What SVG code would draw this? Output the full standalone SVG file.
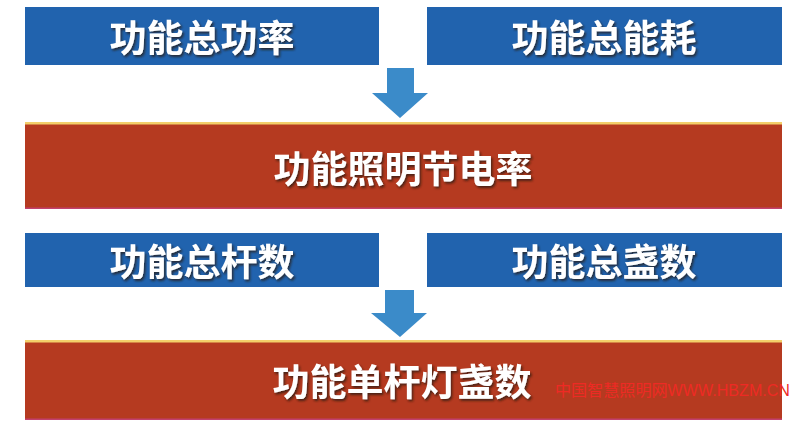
<svg xmlns="http://www.w3.org/2000/svg" width="800" height="423" viewBox="0 0 800 423">
  <defs>
    <style>
      .blue { fill: #2163ae; }
      .red { fill: #b53a20; }
      .arrow { fill: #3b8bc9; }
      .topline { fill: #f3cf6a; }
      .botline { fill: #c2406e; }
      .label { font-family: "Noto Sans CJK SC", "Noto Sans", sans-serif; font-weight: 700; font-size: 37px; fill: #ffffff; text-anchor: middle; dominant-baseline: central; filter: url(#shadow); }
      .mark { font-family: "Liberation Sans", "Noto Sans CJK SC", sans-serif; font-size: 16px; fill: #ee2a24; }
    </style>
    <filter id="shadow" x="-10%" y="-20%" width="120%" height="150%">
      <feDropShadow dx="1.5" dy="2" stdDeviation="0.8" flood-color="#2a1a10" flood-opacity="0.75"/>
    </filter>
  </defs>
  <rect width="800" height="423" fill="#ffffff"/>

  <g id="connectors">
    <path class="arrow" d="M387,68 H414 V93 H428 L400,118 L372,93 H387 Z"/>
    <path class="arrow" d="M385,290 H414 V313 H427 L400,337 L371,313 H385 Z"/>
  </g>

  <g id="node-total-power">
    <rect class="blue" x="25" y="7" width="354" height="58"/>
    <text class="label" x="202" y="36">功能总功率</text>
  </g>
  <g id="node-total-energy">
    <rect class="blue" x="427" y="7" width="355" height="58"/>
    <text class="label" x="604" y="36">功能总能耗</text>
  </g>
  <g id="node-saving-rate">
    <rect class="red" x="25" y="122" width="757" height="87"/>
    <rect class="topline" x="25" y="122" width="757" height="2.5"/>
    <rect class="botline" x="25" y="207.5" width="757" height="1.5"/>
    <text class="label" x="403" y="167">功能照明节电率</text>
  </g>
  <g id="node-total-poles">
    <rect class="blue" x="25" y="233" width="354" height="54"/>
    <text class="label" x="202" y="260">功能总杆数</text>
  </g>
  <g id="node-total-lamps">
    <rect class="blue" x="427" y="233" width="355" height="54"/>
    <text class="label" x="604" y="260">功能总盏数</text>
  </g>
  <g id="node-lamps-per-pole">
    <rect class="red" x="25" y="340" width="757" height="80"/>
    <rect class="topline" x="25" y="340" width="757" height="2.5"/>
    <rect class="botline" x="25" y="418.5" width="757" height="1.5"/>
    <text class="label" x="402" y="380">功能单杆灯盏数</text>
  </g>

  <text class="mark" x="555" y="396" textLength="235" lengthAdjust="spacingAndGlyphs">中国智慧照明网WWW.HBZM.CN</text>
</svg>
